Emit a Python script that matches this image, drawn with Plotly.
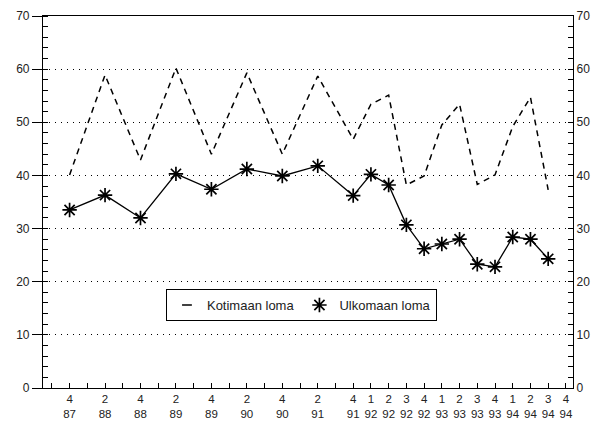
import plotly.graph_objects as go

# Periods as "quarter/year"
periods = ["4/87", "2/88", "4/88", "2/89", "4/89", "2/90", "4/90", "2/91", "4/91",
           "1/92", "2/92", "3/92", "4/92", "1/93", "2/93", "3/93", "4/93",
           "1/94", "2/94", "3/94"]
kotimaan = [40.1, 58.9, 42.9, 60.2, 44.0, 59.3, 44.0, 58.7, 46.8,
            53.4, 55.1, 38.2, 39.9, 49.5, 53.4, 38.3, 40.1,
            49.2, 54.7, 37.3]
ulkomaan = [33.5, 36.3, 32.0, 40.3, 37.4, 41.2, 39.9, 41.8, 36.2,
            40.2, 38.2, 30.7, 26.2, 27.1, 28.0, 23.3, 22.8,
            28.4, 28.0, 24.3]

tick_periods = ["3/87", "4/87", "1/88", "2/88", "3/88", "4/88", "1/89", "2/89", "3/89",
                "4/89", "1/90", "2/90", "3/90", "4/90", "1/91", "2/91", "3/91", "4/91",
                "1/92", "2/92", "3/92", "4/92", "1/93", "2/93", "3/93", "4/93",
                "1/94", "2/94", "3/94", "4/94"]
tick_text = ["", "4<br>87", "", "2<br>88", "", "4<br>88", "", "2<br>89", "",
             "4<br>89", "", "2<br>90", "", "4<br>90", "", "2<br>91", "", "4<br>91",
             "1<br>92", "2<br>92", "3<br>92", "4<br>92", "1<br>93", "2<br>93", "3<br>93", "4<br>93",
             "1<br>94", "2<br>94", "3<br>94", "4<br>94"]


def qidx(p):
    q, y = p.split("/")
    return (int(y) - 87) * 4 + int(q) - 4


x = [qidx(p) for p in periods]
tickvals = [qidx(p) for p in tick_periods]

FONT = "Liberation Sans, Arial, Helvetica, sans-serif"

fig = go.Figure()
fig.add_trace(go.Scatter(
    x=x, y=kotimaan, mode="lines", name="Kotimaan loma",
    line=dict(color="black", width=1.5, dash="6px,5px"), showlegend=False))
fig.add_trace(go.Scatter(
    x=x, y=ulkomaan, mode="lines+markers", name="Ulkomaan loma",
    line=dict(color="black", width=1.3),
    marker=dict(symbol="asterisk-open", size=12, color="black",
                line=dict(color="black", width=1.7)),
    showlegend=False))
# legend entries
fig.add_trace(go.Scatter(
    x=[None], y=[None], mode="markers", name="Kotimaan loma", yaxis="y2",
    marker=dict(symbol="line-ew-open", size=7, color="black",
                line=dict(color="black", width=1.5))))
fig.add_trace(go.Scatter(
    x=[None], y=[None], mode="markers", name="Ulkomaan loma", yaxis="y2",
    marker=dict(symbol="asterisk-open", size=12, color="black",
                line=dict(color="black", width=1.7))))

# page body has an 8px margin: figure is sized/margined to compensate
fig.update_layout(
    width=595, height=413, autosize=False,
    margin=dict(l=35, r=30, t=8, b=33),
    paper_bgcolor="white", plot_bgcolor="white",
    font=dict(family=FONT, size=12, color="#222"),
    xaxis=dict(range=[-1.5, 28.4], tickvals=tickvals, ticktext=tick_text,
               ticks="inside", ticklen=5, tickcolor="black", tickwidth=1,
               showline=True, linecolor="black", linewidth=1.2, mirror=True,
               showgrid=False, zeroline=False, automargin=False,
               tickfont=dict(size=11.5)),
    yaxis=dict(range=[0, 70], dtick=10, tick0=0, ticks="outside", ticklen=10,
               tickcolor="black", showline=True, linecolor="black", linewidth=1.2,
               showgrid=True, gridcolor="black", gridwidth=1, griddash="1px,5px",
               zeroline=False, automargin=False,
               minor=dict(dtick=2, ticks="inside", ticklen=5, tickcolor="black",
                          showgrid=False)),
    yaxis2=dict(range=[0, 70], dtick=10, tick0=0, overlaying="y", side="right",
                ticks="inside", ticklen=5, tickcolor="black", showline=True,
                linecolor="black", linewidth=1.2, showgrid=False, zeroline=False,
                automargin=False,
                minor=dict(dtick=2, ticks="inside", ticklen=5, tickcolor="black",
                           showgrid=False)),
    legend=dict(orientation="h", x=0.232, y=0.266, xanchor="left", yanchor="top",
                bordercolor="black", borderwidth=1, bgcolor="white",
                font=dict(size=13, color="#222"), itemwidth=30),
)

fig.write_html("out.html")
